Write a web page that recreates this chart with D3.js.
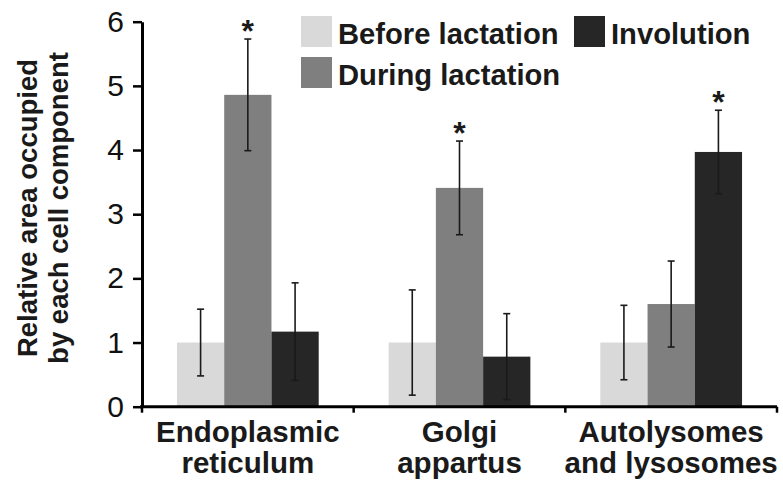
<!DOCTYPE html>
<html>
<head>
<meta charset="utf-8">
<script src="https://cdn.jsdelivr.net/npm/d3@7/dist/d3.min.js"></script>
<style>
  html, body { margin: 0; padding: 0; background: #fff; }
  svg { display: block; font-family: "Liberation Sans", Arial, sans-serif; }
</style>
</head>
<body>
<svg id="chart" width="783" height="483"></svg>
<script>
// ---- data ----
const categories = ["Endoplasmic reticulum", "Golgi appartus", "Autolysomes and lysosomes"];
const categoryLines = [["Endoplasmic", "reticulum"], ["Golgi", "appartus"], ["Autolysomes", "and lysosomes"]];
const seriesNames = ["Before lactation", "During lactation", "Involution"];
const beforeValues = [1.00, 1.00, 1.00];
const beforeErrors = [0.52, 0.82, 0.58];
const duringValues = [4.86, 3.41, 1.60];
const duringErrors = [0.87, 0.73, 0.67];
const involutionValues = [1.17, 0.78, 3.97];
const involutionErrors = [0.76, 0.67, 0.65];
const significant = [[false, true, false], [false, true, false], [false, false, true]]; // per category, per series
const yTicks = [0, 1, 2, 3, 4, 5, 6];
const yTitleLines = ["Relative area occupied", "by each cell component"];
const colors = ["#d9d9d9", "#7f7f7f", "#262626"];

const valuesBySeries = [beforeValues, duringValues, involutionValues];
const errorsBySeries = [beforeErrors, duringErrors, involutionErrors];

const svg = d3.select("#chart");
const margin = { left: 142, right: 6, top: 21.7, bottom: 76.3 };
const W = 783, H = 483;

const x = d3.scaleBand().domain(categories).range([margin.left, W - margin.right]).paddingInner(0).paddingOuter(0);
const xs = d3.scaleBand().domain(seriesNames).range([0, x.bandwidth()]).paddingInner(0).paddingOuter(0.74);
const y = d3.scaleLinear().domain([0, 6]).range([H - margin.bottom, margin.top]);

const rows = [];
categories.forEach((c, ci) => {
  seriesNames.forEach((s, si) => {
    rows.push({ c, ci, s, si, v: valuesBySeries[si][ci], e: errorsBySeries[si][ci], sig: significant[ci][si] });
  });
});

// bars
svg.append("g").selectAll("rect").data(rows).join("rect")
  .attr("x", d => x(d.c) + xs(d.s))
  .attr("y", d => y(d.v))
  .attr("width", xs.bandwidth())
  .attr("height", d => y(0) - y(d.v))
  .attr("fill", d => colors[d.si]);

// error bars
const eg = svg.append("g").attr("stroke", "#1a1a1a").attr("stroke-width", 1.6);
const cx = d => x(d.c) + xs(d.s) + xs.bandwidth() / 2;
eg.selectAll("line.v").data(rows).join("line").attr("class", "v")
  .attr("x1", cx).attr("x2", cx)
  .attr("y1", d => y(d.v + d.e)).attr("y2", d => y(d.v - d.e));
eg.selectAll("line.t").data(rows).join("line").attr("class", "t")
  .attr("x1", d => cx(d) - 3.5).attr("x2", d => cx(d) + 3.5)
  .attr("y1", d => y(d.v + d.e)).attr("y2", d => y(d.v + d.e));
eg.selectAll("line.b").data(rows).join("line").attr("class", "b")
  .attr("x1", d => cx(d) - 3.5).attr("x2", d => cx(d) + 3.5)
  .attr("y1", d => y(d.v - d.e)).attr("y2", d => y(d.v - d.e));

// asterisks
svg.append("g").selectAll("text").data(rows.filter(d => d.sig)).join("text")
  .attr("x", cx)
  .attr("y", d => y(d.v + d.e) + 3)
  .attr("text-anchor", "middle")
  .attr("font-size", 32).attr("font-weight", "bold").attr("fill", "#1a1a1a")
  .text("*");

// y axis
const yAxis = svg.append("g").attr("transform", `translate(${margin.left},0)`)
  .call(d3.axisLeft(y).tickValues(yTicks).tickFormat(d3.format("d")).tickSize(9).tickSizeOuter(0).tickPadding(9));
yAxis.select(".domain").attr("stroke", "#000").attr("stroke-width", 3);
yAxis.selectAll(".tick line").attr("stroke", "#000").attr("stroke-width", 2.5);
yAxis.selectAll(".tick text").attr("font-size", 30).attr("fill", "#111")
  .attr("font-family", "'Liberation Sans', Arial, sans-serif");

// x axis line and boundary ticks
const xg = svg.append("g").attr("stroke", "#000");
xg.append("line").attr("x1", margin.left - 2).attr("x2", W - margin.right)
  .attr("y1", y(0)).attr("y2", y(0)).attr("stroke-width", 3);
const bounds = categories.map(c => x(c)).concat([x.range()[1]]);
xg.selectAll("line.bt").data(bounds).join("line").attr("class", "bt")
  .attr("x1", d => d).attr("x2", d => d)
  .attr("y1", y(0)).attr("y2", y(0) + 6).attr("stroke-width", 2.5);

// x labels
const xl = svg.append("g").attr("font-size", 29.5).attr("font-weight", "bold").attr("fill", "#1a1a1a").attr("text-anchor", "middle");
categories.forEach((c, ci) => {
  categoryLines[ci].forEach((ln, li) => {
    xl.append("text").attr("x", x(c) + x.bandwidth() / 2).attr("y", 442 + li * 31).text(ln);
  });
});

// y title
const yt = svg.append("g").attr("transform", "translate(0,208) rotate(-90)")
  .attr("font-size", 27.5).attr("font-weight", "bold").attr("fill", "#1a1a1a").attr("text-anchor", "middle");
yTitleLines.forEach((ln, i) => {
  yt.append("text").attr("x", 0).attr("y", 37 + i * 31).text(ln);
});

// legend
const legendPos = [[301, 16], [301, 57], [574, 16]];
const lg = svg.append("g");
seriesNames.forEach((s, i) => {
  const [lx, ly] = legendPos[i];
  lg.append("rect").attr("x", lx).attr("y", ly).attr("width", 31).attr("height", 31).attr("fill", colors[i]);
  lg.append("text").attr("x", lx + 37).attr("y", ly + 27.5).attr("font-size", 29.2).attr("font-weight", "bold")
    .attr("fill", "#1a1a1a").text(s);
});
</script>
</body>
</html>
